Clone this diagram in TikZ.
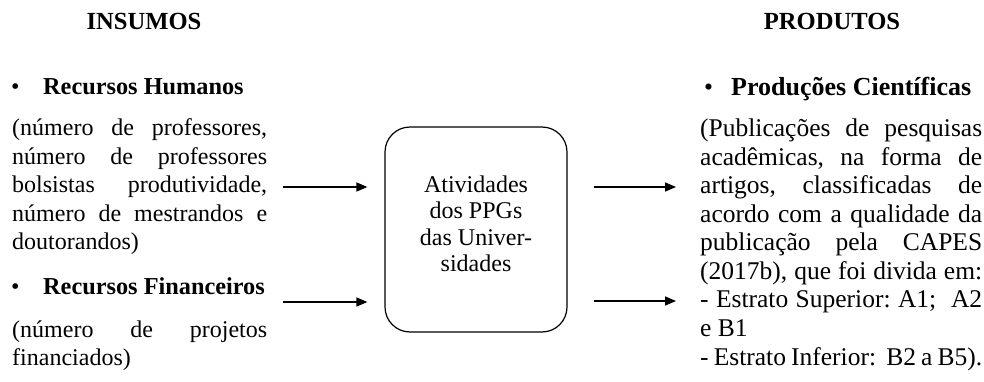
\documentclass[tikz,border=0pt]{standalone}
\usepackage{fontspec}
\setmainfont{Liberation Serif}
\usetikzlibrary{arrows.meta}
\newcommand\jl[1]{\hbox to \hsize{#1}}
\newcommand\rl[1]{\hbox{#1}}
\newcommand\parablock[2]{\vtop{\hsize=#1\relax\frenchspacing\baselineskip=28.5pt\lineskiplimit=-100pt\parindent=0pt #2}}
\tikzset{
  head/.style={anchor=base, inner sep=0pt, font=\fontsize{24.6}{28.5}\selectfont\bfseries},
  subheadL/.style={anchor=base west, inner sep=0pt, font=\fontsize{24.3}{28.5}\selectfont\bfseries},
  subheadR/.style={anchor=base west, inner sep=0pt, font=\fontsize{26}{28.5}\selectfont\bfseries},
  txtL/.style={anchor=base west, inner sep=0pt, font=\fontsize{24}{28.5}\selectfont},
  txtR/.style={anchor=base west, inner sep=0pt, font=\fontsize{25.5}{28.5}\selectfont},
  proc/.style={draw, rounded corners=25pt, line width=1.2pt, minimum width=182pt, minimum height=205pt, inner sep=0pt},
  boxtxt/.style={align=center, inner sep=0pt, font=\fontsize{24}{26.5}\selectfont},
  arr/.style={line width=1.5pt, -{Triangle[length=11pt,width=9pt]}}
}
\begin{document}
\begin{tikzpicture}[x=1pt,y=-1pt]
\useasboundingbox (0,0) rectangle (984,382);
% headings
\node[head] (ins) at (144,30) {INSUMOS};
\node[head] (prod) at (832,30) {PRODUTOS};
% left column
\node[txtL] (bul1) at (11,95) {•};
\node[subheadL] (rh) at (43,95) {Recursos Humanos};
\node[txtL] (ph) at (12,136) {\parablock{255pt}{%
\jl{(número de professores,}
\jl{número de professores}
\jl{bolsistas produtividade,}
\jl{número de mestrandos e}
\rl{doutorandos)}}};
\node[txtL] (bul2) at (11,294) {•};
\node[subheadL] (rf) at (43,294) {Recursos Financeiros};
\node[txtL] (pf) at (12,337) {\parablock{255pt}{%
\jl{(número de projetos}
\rl{financiados)}}};
% right column
\node[txtR] (bul3) at (704,96) {•};
\node[subheadR] (pc) at (731,96) {Produções Científicas};
\node[txtR] (pp) at (700,137) {\parablock{282pt}{%
\jl{(Publicações de pesquisas}
\jl{acadêmicas, na forma de}
\jl{artigos, classificadas de}
\jl{acordo com a qualidade da}
\jl{publicação pela CAPES}
\jl{(2017b), que foi divida em:}
\jl{- Estrato Superior: A1;\ \ A2}
\rl{e B1}
\jl{- Estrato Inferior:\ \ B2 a B5).}}};
% process box
\node[proc] (box) at (476,229.5) {};
\node[boxtxt] (boxlab) at (476,224) {Atividades\\dos PPGs\\das Univer-\\sidades};
% arrows
\coordinate (l1) at (283,187);
\coordinate (l2) at (283,302);
\coordinate (r1) at (676,187);
\coordinate (r2) at (676,301);
\draw[arr, shorten >=17pt] (l1) -- (l1 -| box.west);
\draw[arr, shorten >=17pt] (l2) -- (l2 -| box.west);
\draw[arr, shorten <=26pt] (r1 -| box.east) -- (r1);
\draw[arr, shorten <=26pt] (r2 -| box.east) -- (r2);
\end{tikzpicture}
\end{document}
